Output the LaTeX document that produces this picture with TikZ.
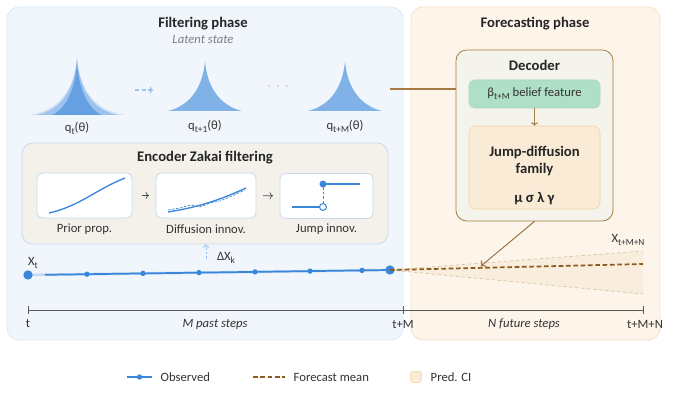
\documentclass[tikz,border=0pt]{standalone}
\usepackage{fontspec}
\setmainfont{Carlito}
\usetikzlibrary{arrows.meta}

\definecolor{filtbg}{HTML}{F1F6FC}
\definecolor{filtline}{HTML}{DCE8F5}
\definecolor{forebg}{HTML}{FDF5EA}
\definecolor{foreline}{HTML}{F3E2C6}
\definecolor{encbg}{HTML}{F3F1EA}
\definecolor{encline}{HTML}{C8DAEE}
\definecolor{decbg}{HTML}{F4F3EC}
\definecolor{brown}{HTML}{A57A45}
\definecolor{darkbrown}{HTML}{8B5A1E}
\definecolor{beliefbg}{HTML}{B0DFC8}
\definecolor{familybg}{HTML}{FAEBD7}
\definecolor{familyline}{HTML}{F0D4A0}
\definecolor{obsblue}{HTML}{3A86DA}
\definecolor{lightblue}{HTML}{9CC3EC}
\definecolor{distA}{HTML}{CFE1F6}
\definecolor{distB}{HTML}{9CC2EE}
\definecolor{distC}{HTML}{64A0E2}
\definecolor{distD}{HTML}{80B2E8}
\definecolor{cifill}{HTML}{F9EDDD}
\definecolor{ciline}{HTML}{D8C2A2}
\definecolor{txt}{HTML}{333333}

\newcommand\lowsub[1]{\raisebox{-0.5ex}{\scriptsize #1}}

\tikzset{
  panel/.style={draw, rounded corners=9pt, line width=0.6pt},
  minibox/.style={draw=encline, fill=white, rounded corners=4pt, line width=0.6pt,
    minimum height=33.75pt},
  title/.style={font=\bfseries\fontsize{11}{13}\selectfont, text=black!85},
  lbl/.style={font=\fontsize{9.5}{11.5}\selectfont, text=txt},
  steps/.style={font=\itshape\fontsize{9.5}{11.5}\selectfont, text=txt},
  obsdot/.style={circle, fill=obsblue, inner sep=0pt, minimum size=4pt},
  bigdot/.style={circle, fill=obsblue, inner sep=0pt, minimum size=7pt},
  fcast/.style={darkbrown, line width=1.3pt, dash pattern=on 3.5pt off 2pt},
  ci/.style={ciline, line width=0.5pt, dash pattern=on 2.5pt off 2pt},
}

\begin{document}
\begin{tikzpicture}[x=0.75pt, y=-0.75pt]
\useasboundingbox (0,0) rectangle (694,402);

% phase panels
\node[panel, draw=filtline, fill=filtbg, minimum width=297pt, minimum height=249.75pt] (filt) at (205,173.5) {};
\node[panel, draw=foreline, fill=forebg, minimum width=186.75pt, minimum height=249.75pt] (fore) at (535.5,173.5) {};

\node[title] (filttitle) at (203,24) {Filtering phase};
\node[font=\itshape\fontsize{9.5}{11}\selectfont, text=black!50] (latent) at (203,39) {Latent state};
\node[title] (foretitle) at (535,24) {Forecasting phase};

% latent densities
\fill[distA] (27,115) .. controls (62,112) and (75,85) .. (77,57) .. controls (79,85) and (92,112) .. (127,115) -- cycle;
\fill[distB] (36,115) .. controls (64,110) and (75,85) .. (77,59) .. controls (79,85) and (90,110) .. (118,115) -- cycle;
\fill[distC] (52,115) .. controls (68,108) and (76,85) .. (77,61) .. controls (78,85) and (86,108) .. (102,115) -- cycle;
\fill[distD] (168,111) .. controls (192,105) and (203,85) .. (205,61) .. controls (207,85) and (218,105) .. (242,111) -- cycle;
\fill[distD] (308,111) .. controls (332,105) and (343,85) .. (345,61) .. controls (347,85) and (358,105) .. (382,111) -- cycle;

\node[lbl] (qa) at (77,128) {q\lowsub{t}(θ)};
\node[lbl] (qb) at (205,126) {q\lowsub{t+1}(θ)};
\node[lbl] (qc) at (345,126) {q\lowsub{t+M}(θ)};
\coordinate (qaR) at (135,90);
\coordinate (qbL) at (153,90);
\coordinate (qcR) at (390,89);
\draw[lightblue, line width=0.9pt, dash pattern=on 3pt off 2pt, -{To[length=2.5pt]}] (qaR) -- (qbL);
\node[text=black!40, font=\fontsize{9}{11}\selectfont] (dots) at (278,87) {$\cdot\ \cdot\ \cdot$};

% encoder
\node[panel, draw=encline, fill=encbg, rounded corners=8pt, minimum width=274.5pt, minimum height=75.75pt] (enc) at (205,193.5) {};
\node[title] (enctitle) at (205,158) {Encoder Zakai filtering};
\node[minibox, minimum width=71.25pt] (prior) at (84.5,195.5) {};
\node[minibox, minimum width=75pt] (diffu) at (206,195.5) {};
\node[minibox, minimum width=69.75pt] (jump) at (326.5,196) {};
\node[lbl] at (84.5,229) {Prior prop.};
\node[lbl] at (206,229) {Diffusion innov.};
\node[lbl] at (326.5,229) {Jump innov.};
\draw[black!70, line width=0.5pt, -{To[length=2.5pt]}, shorten <=7pt, shorten >=5pt] (prior) -- (diffu);
\draw[black!70, line width=0.5pt, -{To[length=2.5pt]}, shorten <=5pt, shorten >=5pt] (diffu) -- (jump);

\draw[obsblue, line width=1pt] (49,213) .. controls (80,206) and (95,190) .. (125,178);
\draw[obsblue, line width=1pt] (168,212) .. controls (200,207) and (222,199) .. (246,188);
\draw[obsblue, line width=0.5pt, dash pattern=on 2pt off 1pt] (168,210) -- (180,208) -- (191,205) -- (200,207) -- (210,203) -- (220,201) -- (232,196) -- (245,190);
\draw[obsblue, line width=1pt] (292,207) -- (320,207);
\draw[obsblue, line width=1pt] (323,184) -- (360,184);
\draw[obsblue, line width=0.6pt, dash pattern=on 2pt off 1.5pt] (323,187) -- (323,204);
\fill[obsblue] (323,184) circle (2.6pt);
\draw[obsblue, fill=white, line width=0.8pt] (323,207) circle (2.6pt);

% decoder
\node[panel, draw=brown, fill=decbg, rounded corners=8pt, minimum width=117.75pt, minimum height=128.25pt] (dec) at (534.5,135.5) {};
\node[title] (dectitle) at (534.5,65) {Decoder};
\node[draw=beliefbg!80!black!20!beliefbg, fill=beliefbg, rounded corners=4pt, minimum width=98.25pt, minimum height=21pt, lbl, inner sep=0pt] (belief) at (534.5,94) {β\lowsub{t+M} belief feature};
\node[draw=familyline, fill=familybg, rounded corners=5pt, minimum width=98.25pt, minimum height=62.25pt] (family) at (534.5,167.5) {};
\node[title, align=center] (famtext) at (534.5,161) {Jump-diffusion\\family};
\node[title] (params) at (534.5,199) {μ σ λ γ};
\draw[brown, line width=0.7pt, -{To[length=2.5pt]}] (belief) -- (family);
\draw[brown, line width=1pt] (qcR) -- (dec.west |- qcR);

% observations and forecast
\coordinate (fend) at (643,264);
\coordinate (ciup) at (643,251);
\coordinate (cilo) at (643,294);
\fill[cifill] (390,270) -- (ciup) -- (cilo) -- cycle;
\draw[ci] (390,270) -- (ciup);
\draw[ci] (390,270) -- (cilo);
\draw[lightblue!60, line width=2pt] (28,275) -- (390,270);
\draw[obsblue, line width=1.3pt] (45,274.8) -- (390,270);
\node[bigdot] (o0) at (28,275) {};
\node[obsdot] (o1) at (87,274.2) {};
\node[obsdot] (o2) at (143,273.4) {};
\node[obsdot] (o3) at (199,272.6) {};
\node[obsdot] (o4) at (255,271.9) {};
\node[obsdot] (o5) at (310,271.1) {};
\node[obsdot] (o6) at (362,270.4) {};
\node[bigdot] (o7) at (390,270) {};
\draw[fcast] (o7.center) -- (fend);
\node[lbl] (xt) at (33,263) {X\lowsub{t}};
\node[lbl] (xend) at (628,240) {X\lowsub{t+M+N}};
\coordinate (dxfoot) at (206,259);
\draw[lightblue, line width=0.6pt, dash pattern=on 2pt off 1.5pt, -{To[length=2.5pt]}] (dxfoot) -- (enc.south -| dxfoot);
\node[lbl] (dx) at (226,258) {ΔX\lowsub{k}};
\coordinate (hit) at (481,266);
\draw[brown!90!black, line width=0.7pt, -{To[length=3pt]}] (dec.south) -- (hit);

% time axis
\draw[black!65, line width=0.7pt] (28,310) -- (643,310);
\foreach \tx in {28,403,643}
  \draw[black!65, line width=0.7pt] (\tx,306) -- (\tx,314);
\node[lbl] at (28,324) {t};
\node[lbl] at (403,324) {t+M};
\node[lbl] at (645,324) {t+M+N};
\node[steps] at (215,324) {M past steps};
\node[steps] at (524,324) {N future steps};

% legend
\draw[obsblue, line width=1.3pt] (127,377) -- (152,377);
\node[obsdot] (legobs) at (139.5,377) {};
\node[lbl, anchor=west] at (156,377) {Observed};
\draw[fcast, line width=1pt] (253,377) -- (285,377);
\node[lbl, anchor=west] at (289,377) {Forecast mean};
\node[draw=familyline, fill=familybg, rounded corners=2pt, minimum size=8.5pt, inner sep=0pt] (legci) at (416,377) {};
\node[lbl, anchor=west] at (426,377) {Pred. CI};
\end{tikzpicture}
\end{document}
